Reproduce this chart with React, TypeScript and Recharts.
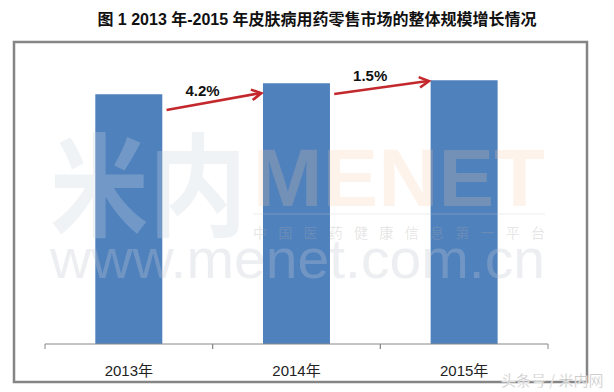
import React from 'react';
import { BarChart, Bar, XAxis, YAxis, ReferenceLine } from 'recharts';

const categories = ['2013年', '2014年', '2015年'];
const marketSize = [95.0, 99.2, 100.3];
const yMax = 108;

// growth arrows between bars (values in the same units as the bars)
const arrowFrom = ['2013年', '2014年'];
const arrowTo = ['2014年', '2015年'];
const arrowStartValues = [89.0, 95.1];
const arrowEndValues = [95.4, 100.0];
const growthLabels = ['4.2%', '1.5%'];

const data = categories.map((name, i) => ({ name, value: marketSize[i] }));

const W = 614;
const H = 392;
const MARGIN = { top: 60, right: 66, bottom: 8, left: 45 };
const LATIN = '"Liberation Sans", Arial, "Noto Sans CJK SC", sans-serif';
const CJK = '"Noto Sans CJK SC", sans-serif';
const ARROW_RED = '#c3282c';

const CategoryTick = (props: any) => {
  const { x, y, payload } = props;
  const half = payload && payload.offset ? payload.offset : (W - MARGIN.left - MARGIN.right) / categories.length / 2;
  return (
    <g>
      <line x1={x - half} y1={y} x2={x - half} y2={y + 5} stroke="#888" strokeWidth={1} />
      <line x1={x + half} y1={y} x2={x + half} y2={y + 5} stroke="#888" strokeWidth={1} />
      <text x={x} y={y + 32} textAnchor="middle" fill="#222" fontSize={15} fontFamily={LATIN}>
        {payload.value}
      </text>
    </g>
  );
};

const makeArrow = (label: string) => (props: any) => {
  const { x1, y1, x2, y2 } = props;
  if (x1 == null || x2 == null) return null;
  const dx = x2 - x1;
  const sx = x1 + dx * 0.225;
  const ex = x2 - dx * 0.21;
  const sy = y1;
  const ey = y2;
  const ang = Math.atan2(ey - sy, ex - sx);
  const head = 11;
  const spread = 0.5;
  const h1x = ex - head * Math.cos(ang - spread);
  const h1y = ey - head * Math.sin(ang - spread);
  const h2x = ex - head * Math.cos(ang + spread);
  const h2y = ey - head * Math.sin(ang + spread);
  const lx = sx + (ex - sx) * 0.38;
  const ly = sy + (ey - sy) * 0.38;
  return (
    <g>
      <line x1={sx} y1={sy} x2={ex - 1} y2={ey} stroke={ARROW_RED} strokeWidth={2.6} />
      <polyline
        points={`${h1x},${h1y} ${ex},${ey} ${h2x},${h2y}`}
        fill="none"
        stroke={ARROW_RED}
        strokeWidth={2.6}
      />
      <text x={lx} y={ly - 8} textAnchor="middle" fontSize={15} fontWeight="bold" fill="#111" fontFamily={LATIN}>
        {label}
      </text>
    </g>
  );
};

export default function App() {
  return (
    <div style={{ position: 'absolute', left: 0, top: 0, width: W, height: H, background: '#fff', overflow: 'hidden' }}>
      <svg width={W} height={H} style={{ position: 'absolute', left: 0, top: 0 }}>
        <text x={317} y={25} textAnchor="middle" fontSize={16} fontWeight="bold" fill="#111" fontFamily={LATIN}>
          图 1 2013 年-2015 年皮肤病用药零售市场的整体规模增长情况
        </text>
        <rect x={14} y={42} width={573} height={340} fill="none" stroke="#858585" strokeWidth={2.5} />
      </svg>

      <div style={{ position: 'absolute', left: 0, top: 0 }}>
        <BarChart width={W} height={H} data={data} margin={MARGIN} barCategoryGap="30%">
          <XAxis
            dataKey="name"
            height={40}
            axisLine={{ stroke: '#888', strokeWidth: 1 }}
            tickLine={false}
            tickSize={0}
            tickMargin={0}
            tick={<CategoryTick />}
            interval={0}
          />
          <YAxis hide domain={[0, yMax]} />
          <Bar dataKey="value" fill="#4f81bd" isAnimationActive={false} />
          {growthLabels.map((label, i) => (
            <ReferenceLine
              key={label}
              segment={[
                { x: arrowFrom[i], y: arrowStartValues[i] },
                { x: arrowTo[i], y: arrowEndValues[i] },
              ]}
              ifOverflow="visible"
              shape={makeArrow(label)}
            />
          ))}
        </BarChart>
      </div>

      {/* watermark */}
      <svg width={W} height={H} style={{ position: 'absolute', left: 0, top: 0, pointerEvents: 'none' }}>
        <text
          x={50}
          y={228}
          fontSize={112}
          fontWeight="bold"
          fill="#c9d3e0"
          fillOpacity={0.28}
          fontFamily={CJK}
          textLength={197}
          lengthAdjust="spacingAndGlyphs"
        >
          米内
        </text>
        <text
          x={253}
          y={206}
          fontSize={82}
          fontWeight="bold"
          fill="#f8c9a4"
          fillOpacity={0.22}
          fontFamily={LATIN}
          textLength={292}
          lengthAdjust="spacingAndGlyphs"
        >
          MENET
        </text>
        <line x1={253} y1={214} x2={545} y2={214} stroke="#c8c8c8" strokeOpacity={0.35} strokeWidth={1} />
        <text
          x={253}
          y={238}
          fontSize={14}
          fill="#a8a8a8"
          fillOpacity={0.3}
          fontFamily={CJK}
          textLength={292}
          lengthAdjust="spacing"
        >
          中国医药健康信息第一平台
        </text>
        <text
          x={50}
          y={278}
          fontSize={56}
          fill="#c4c8cf"
          fillOpacity={0.3}
          fontFamily={LATIN}
          textLength={495}
          lengthAdjust="spacingAndGlyphs"
        >
          www.menet.com.cn
        </text>
        <text x={501} y={386} fontSize={15} fill="#b8b8b8" stroke="#fff" strokeWidth={0.4} fontFamily={CJK}>
          头条号 / 米内网
        </text>
      </svg>
    </div>
  );
}
